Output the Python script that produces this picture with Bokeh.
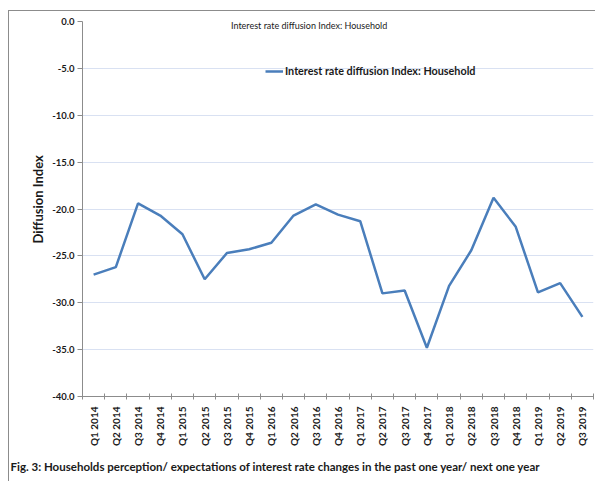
from math import pi
from bokeh.plotting import figure
from bokeh.models import (Range1d, FixedTicker, NumeralTickFormatter, Label,
                          ColumnDataSource, Legend, LegendItem, Title)
from bokeh.embed import file_html
from bokeh.resources import INLINE

quarters = ["Q1 2014", "Q2 2014", "Q3 2014", "Q4 2014",
            "Q1 2015", "Q2 2015", "Q3 2015", "Q4 2015",
            "Q1 2016", "Q2 2016", "Q3 2016", "Q4 2016",
            "Q1 2017", "Q2 2017", "Q3 2017", "Q4 2017",
            "Q1 2018", "Q2 2018", "Q3 2018", "Q4 2018",
            "Q1 2019", "Q2 2019", "Q3 2019"]
diffusion_index = [-27.0, -26.2, -19.4, -20.7,
                   -22.7, -27.5, -24.7, -24.3,
                   -23.6, -20.7, -19.5, -20.6,
                   -21.3, -29.0, -28.7, -34.8,
                   -28.2, -24.4, -18.8, -21.9,
                   -28.9, -27.9, -31.5]
y_ticks = [0, -5, -10, -15, -20, -25, -30, -35, -40]

series_name = "Interest rate diffusion Index: Household"
chart_title = "Interest rate diffusion Index: Household"
y_title = "Diffusion Index"
caption = "Fig. 3:  Households  perception/ expectations of interest rate changes in the past one year/ next one year"

FONT = "Lato"
TXT = "#1a1a1a"
AX = "#8c8c8c"

x_idx = list(range(len(quarters)))
src = ColumnDataSource(dict(x=x_idx, y=diffusion_index, q=quarters))

p = figure(width=595, height=481, output_backend="svg", toolbar_location=None,
           x_range=Range1d(-0.5, len(quarters) - 0.5), y_range=Range1d(-40, 0),
           min_border_left=82, min_border_right=2, min_border_top=21,
           min_border_bottom=85)
p.outline_line_color = None
p.background_fill_color = "white"
p.border_fill_alpha = 0
# outer chart-area border: top and left edges drawn as CSS background lines
p.styles = {
    "background": ("linear-gradient(#8c8c8c, #8c8c8c) 8px 10px / 1px 100% no-repeat, "
                   "linear-gradient(#8c8c8c, #8c8c8c) 8px 10px / 100% 1px no-repeat, "
                   "#ffffff"),
}

r = p.line("x", "y", source=src, line_color="#4a7ebb", line_width=2.5)

# x axis
xa = p.xaxis[0]
xa.ticker = FixedTicker(ticks=x_idx, minor_ticks=[i - 0.5 for i in range(len(quarters) + 1)])
xa.major_label_overrides = {i: q for i, q in enumerate(quarters)}
xa.major_label_orientation = pi / 2
xa.major_tick_line_color = None
xa.major_tick_in = 0
xa.major_tick_out = 0
xa.minor_tick_in = 3
xa.minor_tick_out = 3
xa.minor_tick_line_color = AX
xa.axis_line_color = AX
xa.major_label_standoff = 7
xa.major_label_text_font = FONT
xa.major_label_text_font_style = "bold"
xa.major_label_text_font_size = "10px"
xa.major_label_text_color = TXT
p.xgrid.visible = False

# y axis
ya = p.yaxis[0]
ya.ticker = FixedTicker(ticks=y_ticks, minor_ticks=[])
ya.formatter = NumeralTickFormatter(format="0.0")
ya.major_tick_in = 0
ya.major_tick_out = 5
ya.major_tick_line_color = AX
ya.axis_line_color = AX
ya.major_label_standoff = 3
ya.major_label_text_font = FONT
ya.major_label_text_font_style = "bold"
ya.major_label_text_font_size = "9.5px"
ya.major_label_text_color = TXT
p.ygrid.ticker = FixedTicker(ticks=y_ticks, minor_ticks=[])
p.ygrid.grid_line_color = "#d9e1f2"
p.ygrid.grid_line_width = 1

p.add_layout(Title(text=y_title, align="left", offset=153, standoff=8,
                   text_font=FONT, text_font_style="bold", text_font_size="13px",
                   text_color=TXT), "left")

legend = Legend(items=[LegendItem(label=series_name, renderers=[r])],
                location=(183, 319), orientation="horizontal",
                padding=0, margin=0, spacing=0, glyph_width=18, glyph_height=12,
                label_height=12, label_standoff=2,
                border_line_color=None, background_fill_alpha=0,
                label_text_font=FONT, label_text_font_style="bold",
                label_text_font_size="10.8px", label_text_color=TXT)
p.add_layout(legend)

p.add_layout(Label(x=9.70, y=-0.42, text=chart_title, text_align="center",
                   text_baseline="middle", text_font=FONT, text_font_size="9px",
                   text_color=TXT))

p.add_layout(Title(text=caption, align="left", offset=-72, standoff=16,
                   text_font=FONT, text_font_style="bold", text_font_size="11.5px",
                   text_color=TXT), "below")

open("out.html", "w").write(file_html(p, INLINE))
